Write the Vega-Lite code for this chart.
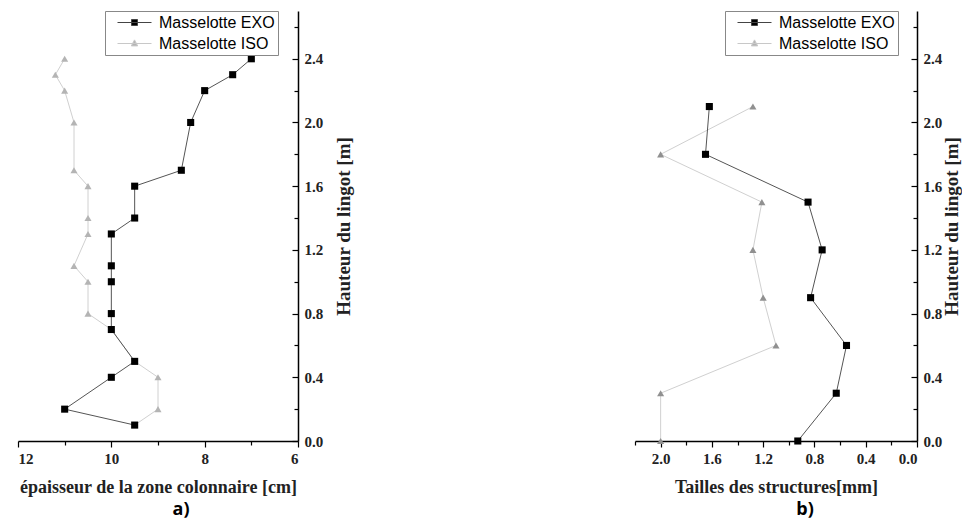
{
  "$schema": "https://vega.github.io/schema/vega-lite/v6.json",
  "background": "white",
  "padding": {"left": 17, "top": 10, "right": 0, "bottom": 2},
  "spacing": 280,
  "datasets": {
    "a": [
      {"serie": "Masselotte ISO", "epaisseur": 11.0, "hauteur": 2.4},
      {"serie": "Masselotte ISO", "epaisseur": 11.2, "hauteur": 2.3},
      {"serie": "Masselotte ISO", "epaisseur": 11.0, "hauteur": 2.2},
      {"serie": "Masselotte ISO", "epaisseur": 10.8, "hauteur": 2.0},
      {"serie": "Masselotte ISO", "epaisseur": 10.8, "hauteur": 1.7},
      {"serie": "Masselotte ISO", "epaisseur": 10.5, "hauteur": 1.6},
      {"serie": "Masselotte ISO", "epaisseur": 10.5, "hauteur": 1.4},
      {"serie": "Masselotte ISO", "epaisseur": 10.5, "hauteur": 1.3},
      {"serie": "Masselotte ISO", "epaisseur": 10.8, "hauteur": 1.1},
      {"serie": "Masselotte ISO", "epaisseur": 10.5, "hauteur": 1.0},
      {"serie": "Masselotte ISO", "epaisseur": 10.5, "hauteur": 0.8},
      {"serie": "Masselotte ISO", "epaisseur": 10.0, "hauteur": 0.7},
      {"serie": "Masselotte ISO", "epaisseur": 9.5, "hauteur": 0.5},
      {"serie": "Masselotte ISO", "epaisseur": 9.0, "hauteur": 0.4},
      {"serie": "Masselotte ISO", "epaisseur": 9.0, "hauteur": 0.2},
      {"serie": "Masselotte ISO", "epaisseur": 9.5, "hauteur": 0.1},
      {"serie": "Masselotte EXO", "epaisseur": 7.0, "hauteur": 2.4},
      {"serie": "Masselotte EXO", "epaisseur": 7.4, "hauteur": 2.3},
      {"serie": "Masselotte EXO", "epaisseur": 8.0, "hauteur": 2.2},
      {"serie": "Masselotte EXO", "epaisseur": 8.3, "hauteur": 2.0},
      {"serie": "Masselotte EXO", "epaisseur": 8.5, "hauteur": 1.7},
      {"serie": "Masselotte EXO", "epaisseur": 9.5, "hauteur": 1.6},
      {"serie": "Masselotte EXO", "epaisseur": 9.5, "hauteur": 1.4},
      {"serie": "Masselotte EXO", "epaisseur": 10.0, "hauteur": 1.3},
      {"serie": "Masselotte EXO", "epaisseur": 10.0, "hauteur": 1.1},
      {"serie": "Masselotte EXO", "epaisseur": 10.0, "hauteur": 1.0},
      {"serie": "Masselotte EXO", "epaisseur": 10.0, "hauteur": 0.8},
      {"serie": "Masselotte EXO", "epaisseur": 10.0, "hauteur": 0.7},
      {"serie": "Masselotte EXO", "epaisseur": 9.5, "hauteur": 0.5},
      {"serie": "Masselotte EXO", "epaisseur": 10.0, "hauteur": 0.4},
      {"serie": "Masselotte EXO", "epaisseur": 11.0, "hauteur": 0.2},
      {"serie": "Masselotte EXO", "epaisseur": 9.5, "hauteur": 0.1}
    ],
    "b": [
      {"serie": "Masselotte ISO", "taille": 1.28, "hauteur": 2.1},
      {"serie": "Masselotte ISO", "taille": 2.0, "hauteur": 1.8},
      {"serie": "Masselotte ISO", "taille": 1.21, "hauteur": 1.5},
      {"serie": "Masselotte ISO", "taille": 1.28, "hauteur": 1.2},
      {"serie": "Masselotte ISO", "taille": 1.2, "hauteur": 0.9},
      {"serie": "Masselotte ISO", "taille": 1.1, "hauteur": 0.6},
      {"serie": "Masselotte ISO", "taille": 2.0, "hauteur": 0.3},
      {"serie": "Masselotte ISO", "taille": 2.0, "hauteur": 0.0},
      {"serie": "Masselotte EXO", "taille": 1.62, "hauteur": 2.1},
      {"serie": "Masselotte EXO", "taille": 1.65, "hauteur": 1.8},
      {"serie": "Masselotte EXO", "taille": 0.85, "hauteur": 1.5},
      {"serie": "Masselotte EXO", "taille": 0.74, "hauteur": 1.2},
      {"serie": "Masselotte EXO", "taille": 0.83, "hauteur": 0.9},
      {"serie": "Masselotte EXO", "taille": 0.55, "hauteur": 0.6},
      {"serie": "Masselotte EXO", "taille": 0.63, "hauteur": 0.3},
      {"serie": "Masselotte EXO", "taille": 0.93, "hauteur": 0.0}
    ]
  },
  "config": {
    "view": {"stroke": null},
    "axis": {
      "grid": false,
      "domainColor": "black",
      "domainWidth": 1.5,
      "tickColor": "black",
      "tickWidth": 1.2,
      "labelFont": "Liberation Serif",
      "labelFontWeight": "bold",
      "labelFontSize": 15,
      "labelColor": "#222",
      "titleFont": "Liberation Serif",
      "titleFontWeight": "bold",
      "titleFontSize": 18,
      "titleColor": "#222"
    },
    "legend": {
      "labelFont": "Liberation Sans",
      "labelFontSize": 16,
      "labelColor": "black",
      "strokeColor": "#888",
      "fillColor": "white",
      "padding": 3,
      "rowPadding": 4,
      "symbolSize": 256,
      "labelOffset": 34
    }
  },
  "hconcat": [
    {
      "width": 280,
      "height": 430,
      "data": {"name": "a"},
      "title": {"text": "a)", "orient": "bottom", "anchor": "middle", "font": "Open Sans", "fontSize": 18, "fontWeight": "bold", "color": "black", "dx": 23, "offset": 5},
      "encoding": {
        "x": {
          "field": "epaisseur", "type": "quantitative",
          "scale": {"domain": [6, 12], "reverse": true, "nice": false, "zero": false},
          "axis": {
            "title": "épaisseur de la zone colonnaire [cm]",
            "values": [6, 7, 8, 9, 10, 11, 12],
            "labelExpr": "datum.value % 2 == 0 ? format(datum.value, 'd') : ''",
            "tickSize": {"condition": {"test": "datum.value % 2 == 0", "value": 6}, "value": 4},
            "labelPadding": 4,
            "titlePadding": 12
          }
        },
        "y": {
          "field": "hauteur", "type": "quantitative",
          "scale": {"domain": [0, 2.7], "nice": false, "zero": false},
          "axis": {
            "orient": "right",
            "title": "Hauteur du lingot [m]",
            "titleFontSize": 19,
            "titleAngle": 270,
            "values": [0, 0.2, 0.4, 0.6, 0.8, 1.0, 1.2, 1.4, 1.6, 1.8, 2.0, 2.2, 2.4, 2.6],
            "labelExpr": "round(datum.value * 10) % 4 == 0 ? format(datum.value, '.1f') : ''",
            "tickSize": {"condition": {"test": "round(datum.value * 10) % 4 == 0", "value": -6}, "value": -4},
            "labelPadding": 12,
            "titlePadding": 31
          }
        }
      },
      "layer": [
        {
          "mark": {"type": "line", "strokeWidth": 1},
          "encoding": {
            "color": {"field": "serie", "type": "nominal", "scale": {"domain": ["Masselotte EXO", "Masselotte ISO"], "range": ["#555555", "#d0d0d0"]}, "legend": null},
            "order": {"field": "hauteur", "type": "quantitative"}
          }
        },
        {
          "mark": {"type": "point", "filled": true, "size": 50, "opacity": 1},
          "encoding": {
            "color": {"field": "serie", "type": "nominal", "scale": {"domain": ["Masselotte EXO", "Masselotte ISO"], "range": ["#000000", "#b4b4b4"]}, "legend": null},
            "shape": {"field": "serie", "type": "nominal", "scale": {"domain": ["Masselotte EXO", "Masselotte ISO"], "range": ["square", "triangle-up"]}, "legend": null}
          }
        },
        {
          "mark": {"type": "point", "filled": true, "opacity": 0},
          "encoding": {
            "color": {"field": "serie", "type": "nominal", "scale": {"domain": ["Masselotte EXO", "Masselotte ISO"], "range": ["#000000", "#b4b4b4"]},
              "legend": {"title": null, "orient": "none", "legendX": 87, "legendY": 0, "symbolOpacity": 1,
                "encode": {"symbols": {"update": {"opacity": {"value": 1}, "strokeWidth": {"value": 1},
                  "stroke": {"signal": "datum.value == 'Masselotte EXO' ? '#444' : '#c8c8c8'"},
                  "fill": {"signal": "datum.value == 'Masselotte EXO' ? '#000' : '#b4b4b4'"}}}}}},
            "shape": {"field": "serie", "type": "nominal", "scale": {"domain": ["Masselotte EXO", "Masselotte ISO"], "range": ["M 0.125 0 L 4.375 0 M 1.875 -0.375 L 2.625 -0.375 L 2.625 0.375 L 1.875 0.375 Z", "M 0.125 0 L 4.375 0 M 2.25 -0.45 L 2.65 0.3 L 1.85 0.3 Z"]},
              "legend": {"title": null, "orient": "none", "legendX": 87, "legendY": 0}}
          }
        }
      ],
      "resolve": {"scale": {"color": "independent", "shape": "independent"}}
    },
    {
      "width": 282,
      "height": 430,
      "data": {"name": "b"},
      "title": {"text": "b)", "orient": "bottom", "anchor": "middle", "font": "Open Sans", "fontSize": 18, "fontWeight": "bold", "color": "black", "dx": 29, "offset": 5},
      "encoding": {
        "x": {
          "field": "taille", "type": "quantitative",
          "scale": {"domain": [0, 2.2], "reverse": true, "nice": false, "zero": false},
          "axis": {
            "title": "Tailles des structures[mm]",
            "values": [0, 0.2, 0.4, 0.6, 0.8, 1.0, 1.2, 1.4, 1.6, 1.8, 2.0, 2.2],
            "labelExpr": "round(datum.value * 10) % 4 == 0 ? format(datum.value, '.1f') : ''",
            "tickSize": {"condition": {"test": "round(datum.value * 10) % 4 == 0", "value": 6}, "value": 4},
            "labelPadding": 4,
            "titlePadding": 12
          }
        },
        "y": {
          "field": "hauteur", "type": "quantitative",
          "scale": {"domain": [0, 2.7], "nice": false, "zero": false},
          "axis": {
            "orient": "right",
            "title": "Hauteur du lingot [m]",
            "titleFontSize": 19,
            "titleAngle": 270,
            "values": [0, 0.2, 0.4, 0.6, 0.8, 1.0, 1.2, 1.4, 1.6, 1.8, 2.0, 2.2, 2.4, 2.6],
            "labelExpr": "round(datum.value * 10) % 4 == 0 ? format(datum.value, '.1f') : ''",
            "tickSize": {"condition": {"test": "round(datum.value * 10) % 4 == 0", "value": -6}, "value": -4},
            "labelPadding": 12,
            "titlePadding": 20
          }
        }
      },
      "layer": [
        {
          "mark": {"type": "line", "strokeWidth": 1},
          "encoding": {
            "color": {"field": "serie", "type": "nominal", "scale": {"domain": ["Masselotte EXO", "Masselotte ISO"], "range": ["#555555", "#d0d0d0"]}, "legend": null},
            "order": {"field": "hauteur", "type": "quantitative"}
          }
        },
        {
          "mark": {"type": "point", "filled": true, "size": 50, "opacity": 1},
          "encoding": {
            "color": {"field": "serie", "type": "nominal", "scale": {"domain": ["Masselotte EXO", "Masselotte ISO"], "range": ["#000000", "#909090"]}, "legend": null},
            "shape": {"field": "serie", "type": "nominal", "scale": {"domain": ["Masselotte EXO", "Masselotte ISO"], "range": ["square", "triangle-up"]}, "legend": null}
          }
        },
        {
          "mark": {"type": "point", "filled": true, "opacity": 0},
          "encoding": {
            "color": {"field": "serie", "type": "nominal", "scale": {"domain": ["Masselotte EXO", "Masselotte ISO"], "range": ["#000000", "#b4b4b4"]},
              "legend": {"title": null, "orient": "none", "legendX": 90, "legendY": 0, "symbolOpacity": 1,
                "encode": {"symbols": {"update": {"opacity": {"value": 1}, "strokeWidth": {"value": 1},
                  "stroke": {"signal": "datum.value == 'Masselotte EXO' ? '#444' : '#c8c8c8'"},
                  "fill": {"signal": "datum.value == 'Masselotte EXO' ? '#000' : '#b4b4b4'"}}}}}},
            "shape": {"field": "serie", "type": "nominal", "scale": {"domain": ["Masselotte EXO", "Masselotte ISO"], "range": ["M 0.125 0 L 4.375 0 M 1.875 -0.375 L 2.625 -0.375 L 2.625 0.375 L 1.875 0.375 Z", "M 0.125 0 L 4.375 0 M 2.25 -0.45 L 2.65 0.3 L 1.85 0.3 Z"]},
              "legend": {"title": null, "orient": "none", "legendX": 90, "legendY": 0}}
          }
        }
      ],
      "resolve": {"scale": {"color": "independent", "shape": "independent"}}
    }
  ]
}
